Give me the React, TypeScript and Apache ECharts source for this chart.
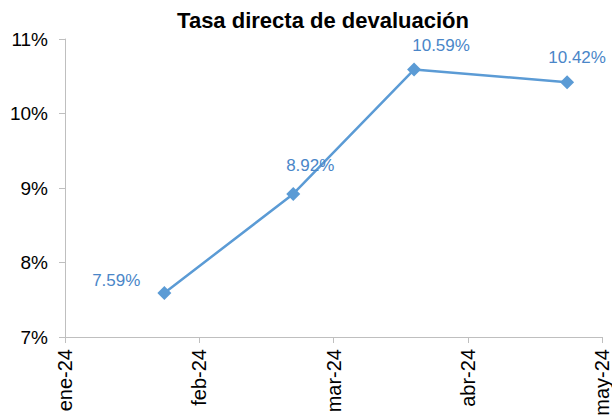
import React, { useEffect, useRef } from "react";
import * as echarts from "echarts";

const monthLabels = ["ene-24", "feb-24", "mar-24", "abr-24", "may-24"];
// x positions in months since ene-24
const pointMonths = [0.74, 1.7, 2.6, 3.74];
const rates = [7.59, 8.92, 10.59, 10.42];
const yTicks = [7, 8, 9, 10, 11];

const labelStyles = [
  { position: "left", offset: [-12, -13] },
  { position: "top", offset: [17, -8] },
  { position: "top", offset: [27, -4] },
  { position: "top", offset: [10, -4] },
];

const FONT = "Liberation Sans, Arial, sans-serif";

export default function App() {
  const ref = useRef<HTMLDivElement>(null);
  useEffect(() => {
    if (!ref.current) return;
    const chart = echarts.init(ref.current, null, { renderer: "svg" });
    const data = rates.map((v, i) => ({
      value: [pointMonths[i], v],
      label: labelStyles[i],
    }));
    chart.setOption({
      animation: false,
      backgroundColor: "#ffffff",
      title: {
        text: "Tasa directa de devaluación",
        left: 318,
        textAlign: "center",
        top: 4,
        textStyle: {
          fontFamily: FONT,
          fontSize: 22,
          fontWeight: "bold",
          color: "#000",
        },
      },
      grid: { left: 65, right: 7, top: 39, bottom: 83 },
      xAxis: {
        type: "value",
        min: 0,
        max: monthLabels.length - 1,
        interval: 1,
        splitLine: { show: false },
        axisLine: { lineStyle: { color: "#bfbfbf", width: 1 } },
        axisTick: { show: true, length: 6, lineStyle: { color: "#bfbfbf" } },
        axisLabel: {
          rotate: 90,
          margin: 12,
          formatter: (v: number) => monthLabels[Math.round(v)] ?? "",
          fontFamily: FONT,
          fontSize: 20,
          color: "#000",
          showMaxLabel: true,
          showMinLabel: true,
        },
      },
      yAxis: {
        type: "value",
        min: yTicks[0],
        max: yTicks[yTicks.length - 1],
        interval: 1,
        splitLine: { show: false },
        axisLine: { show: true, lineStyle: { color: "#bfbfbf", width: 1 } },
        axisTick: { show: true, length: 6, lineStyle: { color: "#bfbfbf" } },
        axisLabel: {
          formatter: (v: number) => v + "%",
          fontFamily: FONT,
          fontSize: 19,
          color: "#000",
          margin: 17,
        },
      },
      series: [
        {
          type: "line",
          data,
          symbol: "diamond",
          symbolSize: 14,
          lineStyle: { color: "#5b9bd5", width: 2.5 },
          itemStyle: { color: "#5b9bd5" },
          label: {
            show: true,
            formatter: (p: any) => p.value[1].toFixed(2) + "%",
            fontFamily: FONT,
            fontSize: 17,
            color: "#4a86c8",
          },
        },
      ],
    });
    return () => chart.dispose();
  }, []);
  return (
    <div
      ref={ref}
      style={{ position: "fixed", left: 0, top: 0, width: 612, height: 420 }}
    />
  );
}
